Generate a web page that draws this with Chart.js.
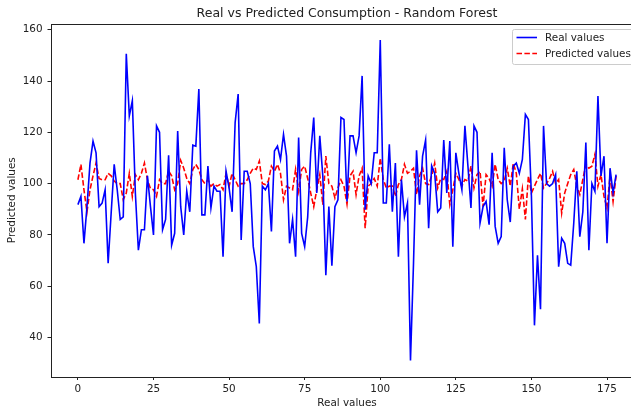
<!DOCTYPE html>
<html>
<head>
<meta charset="utf-8">
<script src="https://cdn.jsdelivr.net/npm/chart.js@4.4.1/dist/chart.umd.min.js"></script>
<style>
  html, body { margin: 0; padding: 0; background: #fff; overflow: hidden; width: 631px; height: 410px; }
  canvas { display: block; }
</style>
</head>
<body>
<canvas id="chart" width="694" height="410"></canvas>
<script>
// Measured consumption, one value per sample (index 0..178)
const realValues = [
  91.8, 95, 76.7, 91, 108, 116.6, 112, 91, 92.4, 97.6,
  68.9, 88.5, 107.5, 97.6, 86, 87, 150.6, 126.4, 132.3, 96.3,
  74, 82, 82, 103, 91, 80, 122.5, 120, 82, 86,
  111, 76, 80.6, 120.5, 91, 80, 97, 89, 115, 114.6,
  136.9, 87.8, 87.8, 106.8, 90.5, 99, 97, 97, 71.5, 104.8,
  98.3, 89, 123.8, 134.9, 78, 104.8, 104.8, 100, 75.4, 67.6,
  45.4, 99, 97.6, 100, 81.3, 112.7, 114.6, 109.4, 119.2, 110.7,
  76.7, 86, 71.5, 118, 80.6, 75.4, 87, 112, 125.8, 96.3,
  118.6, 103, 64.3, 91, 68, 91, 93.7, 125.8, 125, 93,
  118.6, 118.6, 112, 118.6, 142, 89.8, 103, 100, 112, 112,
  156, 92.4, 92.4, 115.3, 89, 108, 71.5, 101.6, 87, 92.4,
  31, 69, 113, 91.8, 110.7, 117, 82.6, 107, 104, 89,
  90.5, 117, 96.3, 116.6, 75.4, 112, 104, 97.6, 122.5, 106.8,
  90.5, 122.5, 120, 84.6, 91, 93, 84, 112, 83.3, 76.7,
  79.3, 114, 93.7, 85, 106.8, 108, 104, 109.4, 127, 125,
  95, 44.7, 72, 51, 122.5, 100, 99, 100, 103.5, 67.6,
  78.7, 76.7, 68.9, 68.2, 84.6, 104.8, 79.3, 89, 116, 74,
  100, 97, 134.2, 103, 110.7, 76.7, 106, 96.3, 103.5
];

// Random Forest predictions for the same samples
const predictedValues = [
  101.5, 107.5, 97.6, 89, 97.6, 103, 108, 102, 101.5, 101.5,
  104, 103, 101, 100, 100, 93.7, 96.3, 104, 95, 103.5,
  101.5, 104, 108, 101.5, 98, 97.6, 95, 101.5, 100, 100,
  105, 103, 97.6, 100, 109, 106, 102, 100, 105.5, 107.5,
  105.5, 101.5, 100, 101.5, 99, 100, 99, 99.6, 97.6, 104,
  99, 104, 101.5, 99, 100, 100, 101.5, 104, 106, 105.5,
  108.8, 100, 99.6, 101, 106.8, 104.8, 107.5, 104, 93.7, 99,
  98.3, 97.6, 105.5, 97, 105.5, 106.8, 102, 96.3, 91, 97.6,
  103.5, 91.8, 110.7, 100, 99, 94.4, 98.3, 101.5, 99, 92,
  103, 104.8, 95.7, 103, 106, 82.6, 99, 100, 102, 99,
  110, 101.6, 98.3, 99, 99, 95, 99.6, 101.6, 107.5, 104,
  104.8, 106, 95.7, 103, 106, 100, 99.6, 103, 108, 98.3,
  102, 101.6, 104.8, 91.8, 97.6, 104, 101.6, 99, 101.6, 101,
  106.8, 98.3, 103.5, 104.8, 91, 103.5, 102, 99, 107.5, 101.6,
  100, 101, 106, 99, 108, 104, 90, 98, 86, 103,
  96.3, 99, 101.6, 104, 98.3, 100, 102, 104.8, 100, 101.6,
  88.5, 96.3, 100, 103.5, 105.5, 99, 95.7, 101.6, 107.5, 106,
  106.8, 111.4, 99, 103.5, 95, 90.5, 103, 93, 103
];

const xTickValues = [0, 25, 50, 75, 100, 125, 150, 175];
const yTickValues = [40, 60, 80, 100, 120, 140, 160];

const chartTitle = 'Real vs Predicted Consumption - Random Forest';

const FONT = 'DejaVu Sans';
const INK = '#222';
const SMALL = 10.4;
const LARGE = 12.5;

const toPoints = arr => arr.map((v, i) => ({ x: i, y: v }));

// Spines on all four sides of the plotting area
const framePlugin = {
  id: 'frame',
  afterDatasetsDraw(chart) {
    const { ctx, chartArea: a } = chart;
    ctx.save();
    ctx.strokeStyle = INK;
    ctx.lineWidth = 1;
    ctx.strokeRect(Math.round(a.left) + 0.5, Math.round(a.top) + 0.5,
                   Math.round(a.right - a.left), Math.round(a.bottom - a.top));
    ctx.restore();
  }
};

// Title centred over the axes rather than over the whole canvas
const axesTitle = {
  id: 'axesTitle',
  afterDraw(chart) {
    const { ctx, chartArea: a } = chart;
    ctx.save();
    ctx.font = LARGE + 'px "' + FONT + '"';
    ctx.fillStyle = INK;
    ctx.textAlign = 'center';
    ctx.textBaseline = 'alphabetic';
    ctx.fillText(chartTitle, (a.left + a.right) / 2, a.top - 7);
    ctx.restore();
  }
};

// Legend box inside the upper right corner of the axes
const insetLegend = {
  id: 'insetLegend',
  afterDraw(chart) {
    const { ctx, chartArea: a } = chart;
    const right = a.right - 5, top = a.top + 5;
    const w = 126, h = 35, left = right - w;
    ctx.save();
    ctx.beginPath();
    ctx.roundRect(left + 0.5, top + 0.5, w, h, 2);
    ctx.fillStyle = 'rgba(255,255,255,0.8)';
    ctx.fill();
    ctx.strokeStyle = '#cccccc';
    ctx.lineWidth = 1;
    ctx.stroke();
    ctx.font = SMALL + 'px "' + FONT + '"';
    ctx.textBaseline = 'middle';
    chart.data.datasets.forEach((ds, k) => {
      const y = top + 8.5 + k * 16;
      ctx.beginPath();
      ctx.setLineDash(ds.borderDash || []);
      ctx.strokeStyle = ds.borderColor;
      ctx.lineWidth = ds.borderWidth;
      ctx.moveTo(left + 4.5, y);
      ctx.lineTo(left + 25, y);
      ctx.stroke();
      ctx.setLineDash([]);
      ctx.fillStyle = INK;
      ctx.fillText(ds.label, left + 33, y + 0.5);
    });
    ctx.restore();
  }
};

new Chart(document.getElementById('chart'), {
  type: 'line',
  data: {
    datasets: [
      {
        label: 'Real values',
        data: toPoints(realValues),
        borderColor: '#0000ff',
        borderWidth: 1.6,
        pointRadius: 0,
        tension: 0,
        fill: false
      },
      {
        label: 'Predicted values',
        data: toPoints(predictedValues),
        borderColor: '#ff0000',
        borderWidth: 1.6,
        borderDash: [5.5, 2.4],
        pointRadius: 0,
        tension: 0,
        fill: false
      }
    ]
  },
  options: {
    responsive: false,
    animation: false,
    events: [],
    layout: { padding: { left: 0, right: 51, top: 24, bottom: 0 } },
    plugins: {
      legend: { display: false },
      tooltip: { enabled: false },
      title: { display: false }
    },
    scales: {
      x: {
        type: 'linear',
        min: -8.9,
        max: 186.9,
        afterBuildTicks: s => { s.ticks = xTickValues.map(v => ({ value: v })); },
        afterFit: s => { s.height = 33.5; },
        border: { display: false },
        grid: { display: true, drawOnChartArea: false, drawTicks: true, tickLength: 3.5, color: INK },
        ticks: { color: INK, padding: 3, maxRotation: 0, font: { family: FONT, size: SMALL } },
        title: {
          display: true, text: 'Real values', color: INK,
          font: { family: FONT, size: SMALL }, padding: { top: 0, bottom: 0 }
        }
      },
      y: {
        type: 'linear',
        min: 24.75,
        max: 162.25,
        afterBuildTicks: s => { s.ticks = yTickValues.map(v => ({ value: v })); },
        afterFit: s => { s.width = 51; },
        border: { display: false },
        grid: { display: true, drawOnChartArea: false, drawTicks: true, tickLength: 3.5, color: INK },
        ticks: { color: INK, padding: 5, font: { family: FONT, size: SMALL } },
        title: {
          display: true, text: 'Predicted values', color: INK,
          font: { family: FONT, size: SMALL }, padding: { top: 6, bottom: 0 }
        }
      }
    }
  },
  plugins: [framePlugin, axesTitle, insetLegend]
});
</script>
</body>
</html>
